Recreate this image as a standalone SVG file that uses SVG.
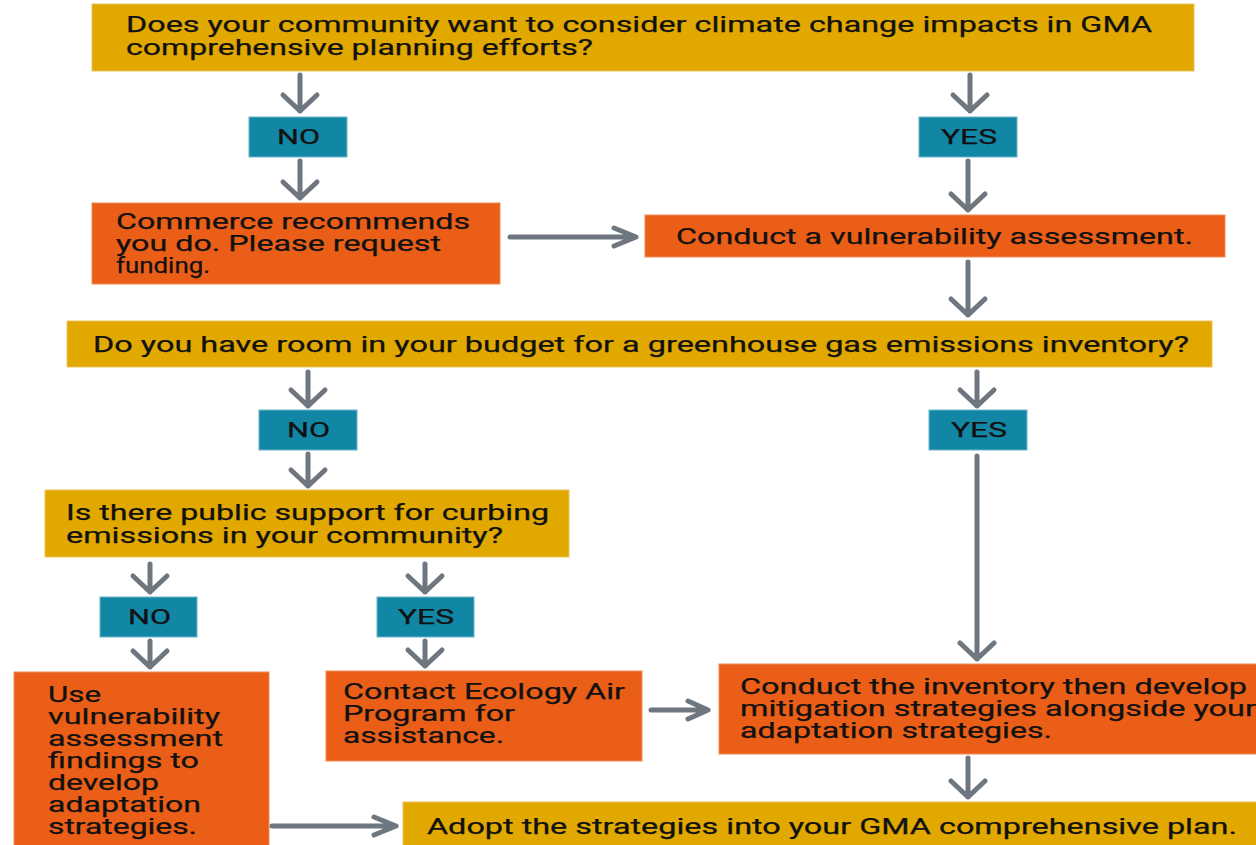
<svg xmlns="http://www.w3.org/2000/svg" width="1256" height="845" viewBox="0 0 1256 845">
<style>
.q{fill:#E1A800;stroke:#E9C45A;stroke-width:1}
.o{fill:#EA5E17;stroke:#F08A55;stroke-width:1}
.t{fill:#1186A5;stroke:#6DB5C8;stroke-width:1}
.tx{font-family:Roboto,"Liberation Sans",sans-serif;font-size:21.5px;fill:#111;stroke:#111;stroke-width:0.25}
.lb{font-family:Roboto,"Liberation Sans",sans-serif;font-size:20.5px;fill:#111;stroke:#111;stroke-width:0.25}
.c path{fill:none;stroke:#6E7780;stroke-width:5;stroke-linecap:round;stroke-linejoin:round}
</style>
<rect width="1256" height="845" fill="#fff"/>
<g id="q1"><rect class="q" x="92" y="4" width="1102" height="67"/>
<text class="tx" x="126" y="32" textLength="1026" lengthAdjust="spacingAndGlyphs">Does your community want to consider climate change impacts in GMA</text>
<text class="tx" x="126" y="55" textLength="467" lengthAdjust="spacingAndGlyphs">comprehensive planning efforts?</text></g>
<g id="no1"><rect class="t" x="249" y="117" width="98" height="40"/><text class="lb" x="277" y="144" textLength="43" lengthAdjust="spacingAndGlyphs">NO</text></g>
<g id="yes1"><rect class="t" x="919" y="117" width="98" height="40"/><text class="lb" x="941" y="144" textLength="56" lengthAdjust="spacingAndGlyphs">YES</text></g>
<g id="commerce"><rect class="o" x="92" y="203" width="408" height="81"/>
<text class="tx" x="116" y="229" textLength="354" lengthAdjust="spacingAndGlyphs">Commerce recommends</text>
<text class="tx" x="116" y="251" textLength="325" lengthAdjust="spacingAndGlyphs">you do. Please request</text>
<text class="tx" x="116" y="273" textLength="94" lengthAdjust="spacingAndGlyphs">funding.</text></g>
<g id="vuln"><rect class="o" x="645" y="215" width="580" height="42"/>
<text class="tx" x="676" y="244" textLength="517" lengthAdjust="spacingAndGlyphs">Conduct a vulnerability assessment.</text></g>
<g id="q2"><rect class="q" x="67" y="321" width="1145" height="46"/>
<text class="tx" x="93" y="352" textLength="1096" lengthAdjust="spacingAndGlyphs">Do you have room in your budget for a greenhouse gas emissions inventory?</text></g>
<g id="no2"><rect class="t" x="259" y="410" width="98" height="40"/><text class="lb" x="287" y="437" textLength="43" lengthAdjust="spacingAndGlyphs">NO</text></g>
<g id="yes2"><rect class="t" x="929" y="410" width="98" height="40"/><text class="lb" x="951" y="437" textLength="56" lengthAdjust="spacingAndGlyphs">YES</text></g>
<g id="q3"><rect class="q" x="45" y="490" width="524" height="67"/>
<text class="tx" x="66" y="520" textLength="483" lengthAdjust="spacingAndGlyphs">Is there public support for curbing</text>
<text class="tx" x="66" y="543" textLength="437" lengthAdjust="spacingAndGlyphs">emissions in your community?</text></g>
<g id="no3"><rect class="t" x="100" y="597" width="97" height="40"/><text class="lb" x="128" y="624" textLength="43" lengthAdjust="spacingAndGlyphs">NO</text></g>
<g id="yes3"><rect class="t" x="377" y="597" width="97" height="40"/><text class="lb" x="398" y="624" textLength="56" lengthAdjust="spacingAndGlyphs">YES</text></g>
<g id="use"><rect class="o" x="14" y="672" width="255" height="180"/>
<text class="tx" x="48" y="702" textLength="53" lengthAdjust="spacingAndGlyphs">Use</text>
<text class="tx" x="48" y="724" textLength="172" lengthAdjust="spacingAndGlyphs">vulnerability</text>
<text class="tx" x="48" y="746" textLength="175" lengthAdjust="spacingAndGlyphs">assessment</text>
<text class="tx" x="48" y="768" textLength="151" lengthAdjust="spacingAndGlyphs">findings to</text>
<text class="tx" x="48" y="790" textLength="111" lengthAdjust="spacingAndGlyphs">develop</text>
<text class="tx" x="48" y="812" textLength="153" lengthAdjust="spacingAndGlyphs">adaptation</text>
<text class="tx" x="48" y="834" textLength="149" lengthAdjust="spacingAndGlyphs">strategies.</text></g>
<g id="contact"><rect class="o" x="326" y="671" width="316" height="90"/>
<text class="tx" x="343" y="699" textLength="282" lengthAdjust="spacingAndGlyphs">Contact Ecology Air</text>
<text class="tx" x="343" y="721" textLength="172" lengthAdjust="spacingAndGlyphs">Program for</text>
<text class="tx" x="343" y="743" textLength="161" lengthAdjust="spacingAndGlyphs">assistance.</text></g>
<g id="inventory"><rect class="o" x="719" y="664" width="545" height="90"/>
<text class="tx" x="740" y="694" textLength="507" lengthAdjust="spacingAndGlyphs">Conduct the inventory then develop</text>
<text class="tx" x="740" y="716" textLength="516" lengthAdjust="spacingAndGlyphs">mitigation strategies alongside your</text>
<text class="tx" x="740" y="738" textLength="312" lengthAdjust="spacingAndGlyphs">adaptation strategies.</text></g>
<g id="adopt"><rect class="q" x="403" y="802" width="861" height="50"/>
<text class="tx" x="427" y="834" textLength="810" lengthAdjust="spacingAndGlyphs">Adopt the strategies into your GMA comprehensive plan.</text></g>
<g id="connectors" class="c">
<path d="M300 75V111M283 95L300 111L317 95"/>
<path d="M300 161V198M283 182L300 198L317 182"/>
<path d="M970 75V111M953 95L970 111L987 95"/>
<path d="M968 161V210M951 194L968 210L985 194"/>
<path d="M968 262V315M951 299L968 315L985 299"/>
<path d="M308 372V406M291 390L308 406L325 390"/>
<path d="M308 454V486M291 470L308 486L325 470"/>
<path d="M977 372V406M960 390L977 406L994 390"/>
<path d="M977 456V659M960 643L977 659L994 643"/>
<path d="M150 564V592M133 576L150 592L167 576"/>
<path d="M150 641V667M133 651L150 667L167 651"/>
<path d="M425 564V592M408 576L425 592L442 576"/>
<path d="M425 641V666M408 650L425 666L442 650"/>
<path d="M968 758V797M951 781L968 797L985 781"/>
<path d="M510 237H636M614 228L636 237L614 246"/>
<path d="M651 710H708M688 701L708 710L688 719"/>
<path d="M272 826H396M374 817L396 826L374 835"/>
</g>
</svg>
